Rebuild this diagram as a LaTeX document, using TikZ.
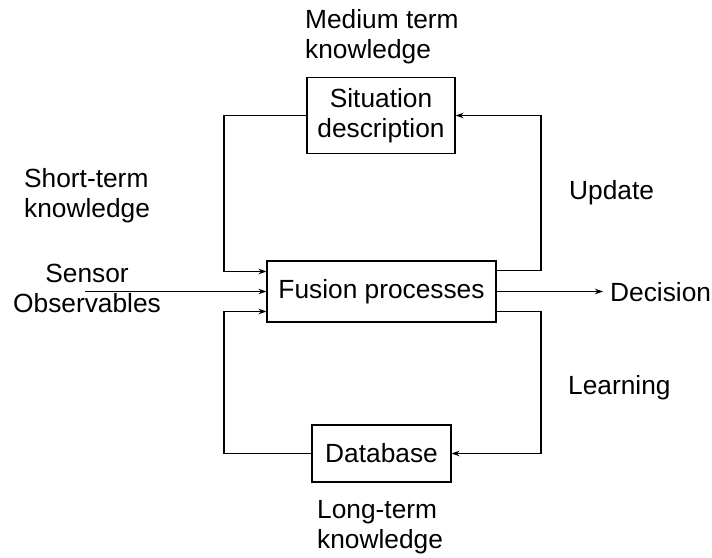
\documentclass[tikz,border=0pt]{standalone}
\usepackage{fontspec}
\setmainfont{Liberation Sans}
\usetikzlibrary{arrows.meta}
\begin{document}
\begin{tikzpicture}[x=1pt,y=-1pt,
  every node/.style={font=\fontsize{26.3}{30}\selectfont},
  blk/.style={draw,line width=1.1pt,align=center,inner sep=0pt},
  lbl/.style={inner sep=0pt,align=left,anchor=west},
  conn/.style={line width=1.1pt},
  arr/.style={conn,-{Stealth[length=8pt,width=5.5pt,inset=2.5pt]}}]
\useasboundingbox (0,0) rectangle (712,557);
\node[blk,minimum width=148pt,minimum height=76pt] (sit) at (381,115.5) {Situation\\description};
\node[blk,minimum width=229pt,minimum height=61pt] (fus) at (381.5,291.5) {Fusion processes};
\node[blk,minimum width=139pt,minimum height=57pt] (db) at (381.5,453.5) {Database};
\node[lbl] (med) at (305,36.5) {Medium term\\knowledge};
\node[lbl] (short) at (24,196) {Short-term\\knowledge};
\node[lbl] (upd) at (569,193) {Update};
\node[lbl] (learn) at (568,388) {Learning};
\node[lbl] (long) at (317,527) {Long-term\\knowledge};
\node[inner sep=0pt,align=center] (sens) at (87,288) {Sensor\\Observables};
\node[lbl] (dec) at (610,292.5) {Decision};
\coordinate (sin) at (85,291.5);
\coordinate (dout) at (603,291.5);
\coordinate (ltop) at (224,115.5);
\coordinate (rtop) at (541,115.5);
\coordinate (lbot) at (224,453.5);
\coordinate (rbot) at (541,453.5);
\draw[arr] (sit.west) -- (ltop) |- ([yshift=20pt]fus.west);
\draw[arr] ([yshift=21pt]fus.east) -| (rtop) -- (sit.east);
\draw[arr] (sin) -- (fus.west);
\draw[arr] (fus.east) -- (dout);
\draw[arr] (db.west) -- (lbot) |- ([yshift=-20pt]fus.west);
\draw[arr] ([yshift=-20pt]fus.east) -| (rbot) -- (db.east);
\end{tikzpicture}
\end{document}
